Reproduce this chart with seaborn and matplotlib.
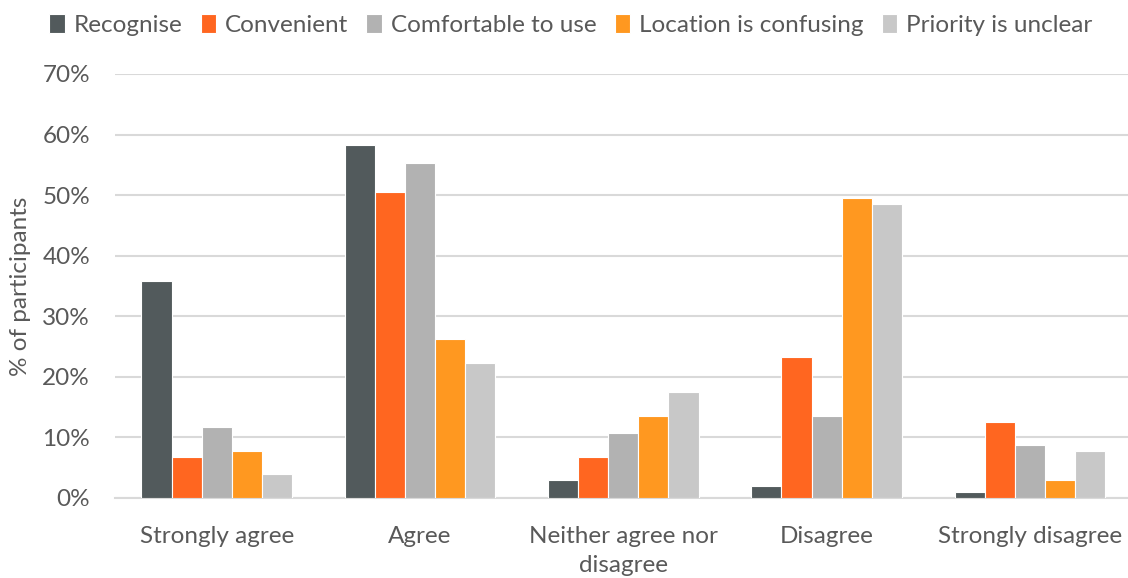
import matplotlib
matplotlib.use("Agg")
import matplotlib.pyplot as plt
import pandas as pd
import seaborn as sns
from matplotlib.ticker import FuncFormatter

# Responses / items
responses = ["Strongly agree", "Agree", "Neither agree nor\ndisagree", "Disagree", "Strongly disagree"]
items = ["Recognise", "Convenient", "Comfortable to use", "Location is confusing", "Priority is unclear"]

# % of participants per item, in order of responses
recognise = [35.9, 58.3, 2.9, 1.9, 1.0]
convenient = [6.8, 50.5, 6.8, 23.3, 12.6]
comfortable = [11.7, 55.3, 10.7, 13.6, 8.7]
location = [7.8, 26.2, 13.6, 49.5, 2.9]
priority = [3.9, 22.3, 17.5, 48.5, 7.8]

colors = ["#525A5C", "#FF6620", "#B2B2B2", "#FF9820", "#C8C8C8"]

rows = []
for item, vals in zip(items, [recognise, convenient, comfortable, location, priority]):
    for resp, v in zip(responses, vals):
        rows.append({"response": resp, "item": item, "pct": v})
df = pd.DataFrame(rows)

sns.set_theme(style="white")
plt.rcParams["font.family"] = ["Lato", "DejaVu Sans"]
txt = "#595959"
fs = 17.5

fig = plt.figure(figsize=(11.28, 5.78), dpi=100)
ax = fig.add_axes([115 / 1128, 80 / 578, (1131.6 - 115) / 1128, 424 / 578])

sns.barplot(
    data=df, x="response", y="pct", hue="item", order=responses, hue_order=items,
    palette=dict(zip(items, colors)), width=0.74, gap=0, edgecolor="white",
    linewidth=0.8, saturation=1, ax=ax, zorder=3,
)

ax.set_xlim(-0.5, 4.5)
ax.set_ylim(0, 70)
ax.set_yticks(range(0, 71, 10))
ax.yaxis.set_major_formatter(FuncFormatter(lambda v, p: f"{int(v)}%"))
ax.grid(axis="y", color="#D9D9D9", linewidth=1.5, zorder=0)
ax.set_axisbelow(True)
for s in ["top", "right", "left"]:
    ax.spines[s].set_visible(False)
ax.spines["bottom"].set_color("#D9D9D9")
ax.spines["bottom"].set_linewidth(1.5)

ax.tick_params(axis="both", length=0, labelsize=fs, labelcolor=txt)
ax.tick_params(axis="x", pad=20)
ax.tick_params(axis="y", pad=18)
for lab in ax.get_xticklabels():
    lab.set_linespacing(1.5)
ax.set_xlabel("")
ax.set_ylabel("% of participants", fontsize=fs, color=txt, labelpad=8)

handles, labels = ax.get_legend_handles_labels()
ax.get_legend().remove()
fig.legend(
    handles, labels, loc="center", bbox_to_anchor=(0.506, 0.957), ncol=5,
    frameon=False, fontsize=fs, labelcolor=txt, handlelength=0.65, handleheight=0.8,
    handletextpad=0.35, columnspacing=0.75, borderaxespad=0,
)

plt.savefig("out.png", dpi=100)
plt.close()
